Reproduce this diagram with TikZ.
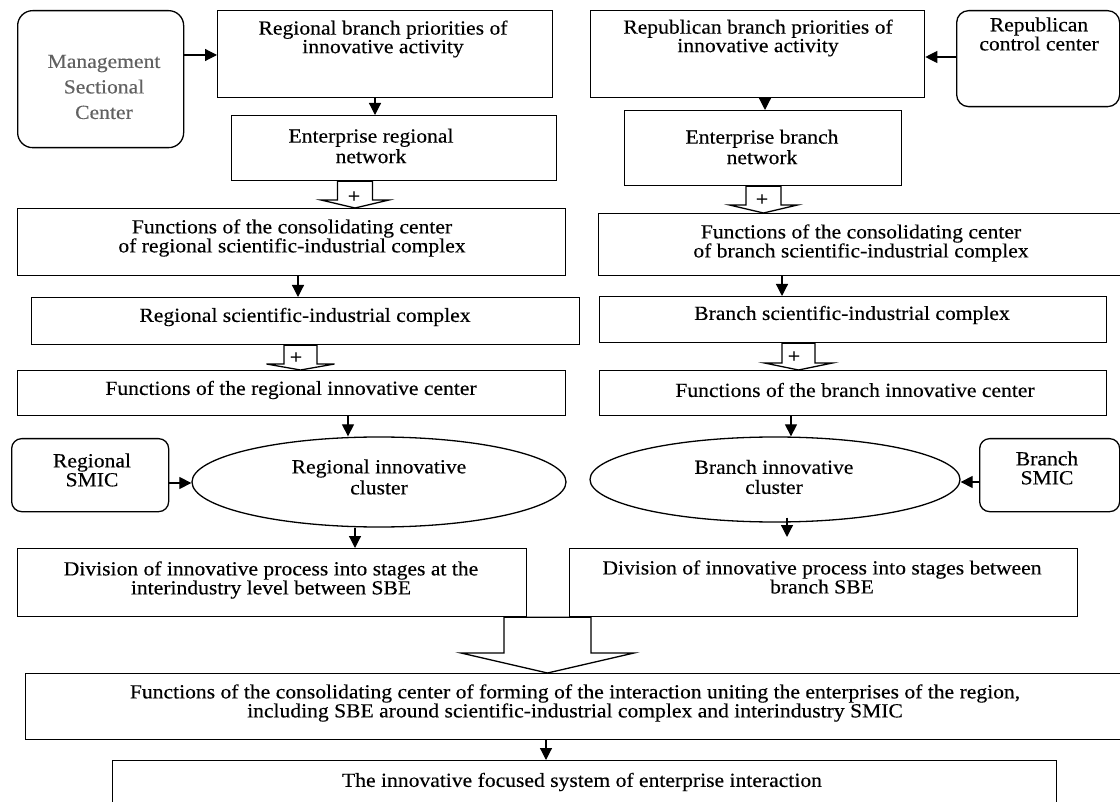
\documentclass[tikz,border=0pt]{standalone}
\usepackage{fontspec}
\setmainfont{Liberation Serif}[FakeStretch=1.08,FakeBold=0.3]
\usetikzlibrary{shapes.geometric,arrows.meta,calc}
\tikzset{
  boxst/.style={draw, line width=1.3pt, rectangle, inner sep=0pt, anchor=north west},
  ellst/.style={draw, ellipse, line width=1.3pt, inner sep=0pt},
  txt/.style={align=center, inner sep=0pt, font=\fontsize{20}{19}\selectfont},
  arr/.style={line width=1.2pt, -{Triangle[length=12pt,width=12pt]}},
  hollowst/.style={draw, line width=1.3pt, fill=white, line join=miter},
}
\newcommand\hollowarr[6]{%
  \coordinate (#4-#5-a) at (#1,0 |- #4.south);
  \coordinate (#4-#5-b) at (#1,0 |- #5.north);
  \draw[hollowst] ($(#4-#5-a)+(-#2,0)$) -- ($(#4-#5-b)+(-#2,-#6)$) -- ($(#4-#5-b)+(-#3,-#6)$)
    -- (#4-#5-b) -- ($(#4-#5-b)+(#3,-#6)$) -- ($(#4-#5-b)+(#2,-#6)$) -- ($(#4-#5-a)+(#2,0)$) -- cycle;}
\begin{document}
\begin{tikzpicture}[x=1pt,y=-1pt]
\useasboundingbox (0,0) rectangle (1120,802);
% boxes
\node[boxst, rounded corners=15pt, minimum width=166pt, minimum height=137pt] (mgmt) at (17,10) {};
\node[boxst, minimum width=335pt, minimum height=87pt] (rp) at (217,10) {};
\node[boxst, minimum width=334pt, minimum height=87pt] (rpr) at (590,10) {};
\node[boxst, rounded corners=12pt, minimum width=163pt, minimum height=96pt] (rcc) at (956,10) {};
\node[boxst, minimum width=325pt, minimum height=65pt] (ern) at (231,115) {};
\node[boxst, minimum width=277pt, minimum height=75pt] (ebn) at (624,110) {};
\node[boxst, minimum width=548pt, minimum height=67pt] (cr) at (17,208) {};
\node[boxst, minimum width=530pt, minimum height=62pt] (cb) at (598,213) {};
\node[boxst, minimum width=548pt, minimum height=47pt] (sic) at (31,297) {};
\node[boxst, minimum width=507pt, minimum height=46pt] (bsic) at (599,296) {};
\node[boxst, minimum width=548pt, minimum height=45pt] (fri) at (17,370) {};
\node[boxst, minimum width=507pt, minimum height=45pt] (fbi) at (599,370) {};
\node[boxst, rounded corners=10pt, minimum width=157pt, minimum height=73pt] (rsmic) at (11,438) {};
\node[boxst, rounded corners=10pt, minimum width=140pt, minimum height=73pt] (bsmic) at (979,438) {};
\node[ellst, minimum width=374pt, minimum height=90pt] (regell) at (379,482) {};
\node[ellst, minimum width=370pt, minimum height=85pt] (brell) at (775,479.5) {};
\node[boxst, minimum width=509pt, minimum height=68pt] (divL) at (17,548) {};
\node[boxst, minimum width=508pt, minimum height=68pt] (divR) at (569,548) {};
\node[boxst, minimum width=1105pt, minimum height=66pt] (big) at (25,673) {};
\node[boxst, minimum width=944pt, minimum height=60pt] (last) at (112,760) {};
% texts
\node[txt, text=black!62, font=\fontsize{20}{25.5}\selectfont] (mgmt-t) at (104,87) {Management\\Sectional\\Center};
\node[txt, font=\fontsize{20}{17.5}\selectfont] (rp-t) at (383,39) {Regional branch priorities of\\innovative activity};
\node[txt, font=\fontsize{20}{18.5}\selectfont] (rpr-t) at (758,38) {Republican branch priorities of\\innovative activity};
\node[txt, font=\fontsize{20}{18}\selectfont] (rcc-t) at (1039,34) {Republican\\control center};
\node[txt, font=\fontsize{20}{20.5}\selectfont] (ern-t) at (371,146) {Enterprise regional\\network};
\node[txt, font=\fontsize{20}{20.5}\selectfont] (ebn-t) at (762,147) {Enterprise branch\\network};
\node[txt] (cr-t) at (292,238) {Functions of the consolidating center\\of regional scientific-industrial complex};
\node[txt] (cb-t) at (861,243) {Functions of the consolidating center\\of branch scientific-industrial complex};
\node[txt] (sic-t) at (305,317) {Regional scientific-industrial complex};
\node[txt] (bsic-t) at (852,315) {Branch scientific-industrial complex};
\node[txt] (fri-t) at (291,390) {Functions of the regional innovative center};
\node[txt] (fbi-t) at (855,390) {Functions of the branch innovative center};
\node[txt] (rsmic-t) at (92,470) {Regional\\SMIC};
\node[txt] (bsmic-t) at (1047,468) {Branch\\SMIC};
\node[txt, font=\fontsize{20}{21}\selectfont] (regell-t) at (379,477) {Regional innovative\\cluster};
\node[txt, font=\fontsize{20}{20}\selectfont] (brell-t) at (774,477) {Branch innovative\\cluster};
\node[txt] (divL-t) at (271,580) {Division of innovative process into stages at the\\interindustry level between SBE};
\node[txt] (divR-t) at (822,577) {Division of innovative process into stages between\\branch SBE};
\node[txt] (big-t) at (575,703) {Functions of the consolidating center of forming of the interaction uniting the enterprises of the region,\\including SBE around scientific-industrial complex and interindustry SMIC};
\node[txt] (last-t) at (582,782) {The innovative focused system of enterprise interaction};
% hollow arrows
\hollowarr{355}{17.5}{34}{ern}{cr}{8}
\hollowarr{763.5}{17.5}{34}{ebn}{cb}{8}
\hollowarr{300.5}{16.5}{34}{sic}{fri}{6}
\hollowarr{798.5}{16.5}{34}{bsic}{fbi}{7}
\hollowarr{547.5}{43.5}{86.5}{divL}{big}{20}
\node[txt] (p1) at (354,197) {+};
\node[txt] (p2) at (762,200) {+};
\node[txt] (p3) at (296,358) {+};
\node[txt] (p4) at (794,357) {+};
% arrows
\draw[arr] (mgmt.east |- 0,55) -- (rp.west |- 0,55);
\draw[arr] (rcc.west |- 0,57) -- (rpr.east |- 0,57);
\draw[arr] (375,0 |- rp.south) -- (375,0 |- ern.north);
\draw[arr] (765,0 |- rpr.south) -- (765,0 |- ebn.north);
\draw[arr] (298,0 |- cr.south) -- (298,0 |- sic.north);
\draw[arr] (782,0 |- cb.south) -- (782,0 |- bsic.north);
\draw[arr] (348,0 |- fri.south) -- (348,0 |- regell.north);
\draw[arr] (791,0 |- fbi.south) -- (791,0 |- brell.north);
\draw[arr] (rsmic.east |- 0,483) -- (regell.west |- 0,483);
\draw[arr] (bsmic.west |- 0,482) -- (brell.east |- 0,482);
\draw[arr] (355,0 |- regell.south) -- (355,0 |- divL.north);
\draw[arr] ($(787,0 |- brell.south)+(0,-5)$) -- ($(787,0 |- divR.north)+(0,-11)$);
\draw[arr] (546,0 |- big.south) -- (546,0 |- last.north);
\end{tikzpicture}
\end{document}
